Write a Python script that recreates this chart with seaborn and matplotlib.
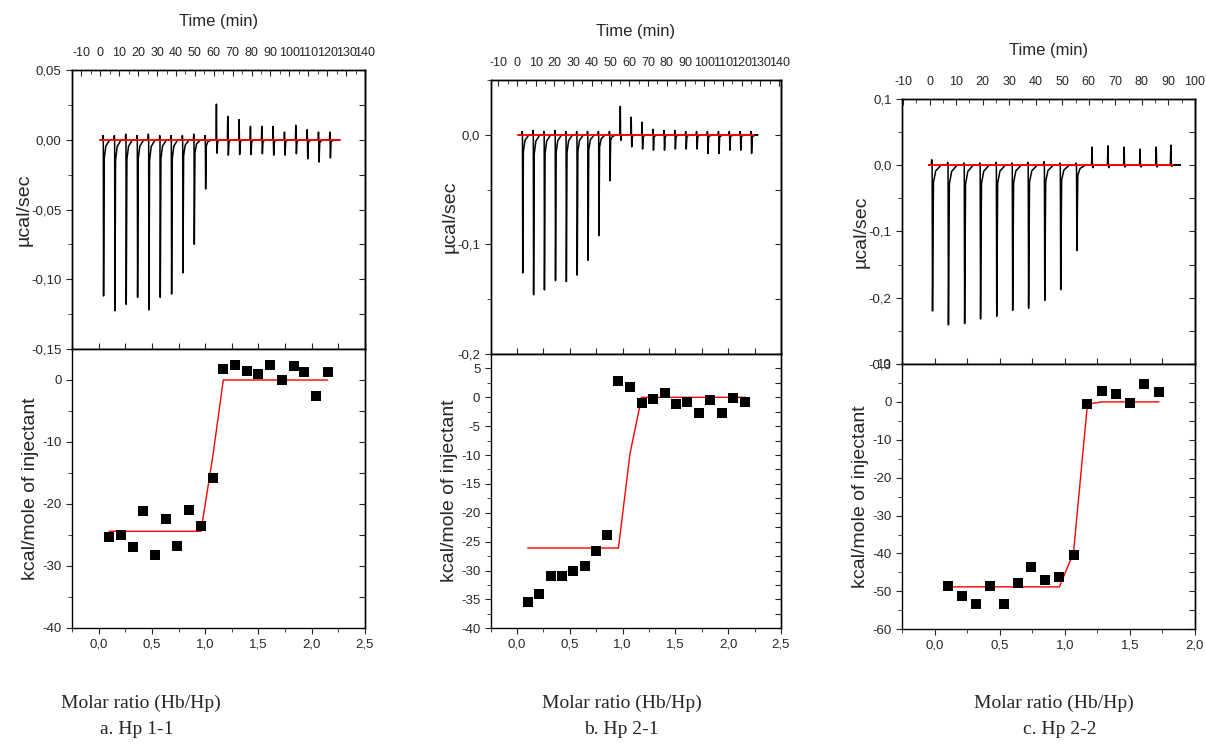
import numpy as np
import pandas as pd
import matplotlib
matplotlib.use("Agg")
import matplotlib.pyplot as plt
import seaborn as sns
from matplotlib.ticker import MultipleLocator, FuncFormatter

# ---------------- Hp 1-1 ----------------
a_inj_time = [1.5, 7.5, 13.5, 19.5, 25.5, 31.5, 37.5, 43.5, 49.5, 55.5, 61.5,
              67.5, 73.5, 79.5, 85.5, 91.5, 97.5, 103.5, 109.5, 115.5, 121.5]
a_inj_dip = [-0.112, -0.1226, -0.118, -0.113, -0.122, -0.113, -0.1106, -0.0954, -0.075, -0.0353, -0.0096,
             -0.011, -0.0106, -0.0106, -0.010, -0.011, -0.011, -0.010, -0.0137, -0.016, -0.013]
a_inj_spike = [0.003, 0.003, 0.004, 0.003, 0.004, 0.003, 0.003, 0.003, 0.004, 0.003, 0.0255,
               0.0168, 0.0144, 0.0096, 0.0096, 0.0096, 0.0055, 0.0103, 0.0072, 0.0055, 0.0055]
a_trace_span = [0.0, 126.7]
a_ratio = [0.10, 0.21, 0.32, 0.42, 0.53, 0.63, 0.74, 0.85, 0.96, 1.07,
           1.17, 1.28, 1.39, 1.50, 1.61, 1.72, 1.83, 1.93, 2.04, 2.15]
a_heat = [-25.4, -25.0, -26.9, -21.1, -28.2, -22.4, -26.8, -21.0, -23.5, -15.8,
          1.7, 2.4, 1.5, 0.9, 2.4, 0.0, 2.2, 1.3, -2.5, 1.3]
a_fit = [-24.4, -24.4, -24.4, -24.4, -24.4, -24.4, -24.4, -24.4, -24.4, -12.5,
         0.0, 0.0, 0.0, 0.0, 0.0, 0.0, 0.0, 0.0, 0.0, 0.0]

# ---------------- Hp 2-1 ----------------
b_inj_time = [2.9, 8.7, 14.5, 20.4, 26.2, 32.0, 37.8, 43.6, 49.5, 55.3, 61.1,
              66.9, 72.7, 78.6, 84.4, 90.2, 96.0, 101.8, 107.7, 113.5, 119.3, 125.1]
b_inj_dip = [-0.126, -0.146, -0.1415, -0.133, -0.134, -0.128, -0.1145, -0.092, -0.042, -0.005, -0.011,
             -0.013, -0.014, -0.014, -0.013, -0.013, -0.013, -0.017, -0.017, -0.014, -0.014, -0.017]
b_inj_spike = [0.003, 0.004, 0.003, 0.004, 0.003, 0.003, 0.003, 0.003, 0.003, 0.026, 0.016,
               0.0115, 0.005, 0.004, 0.004, 0.003, 0.003, 0.003, 0.003, 0.003, 0.003, 0.003]
b_trace_span = [0.75, 126.7]
b_ratio = [0.10, 0.21, 0.32, 0.43, 0.53, 0.64, 0.75, 0.85, 0.96, 1.07,
           1.18, 1.29, 1.40, 1.51, 1.61, 1.72, 1.83, 1.94, 2.05, 2.16]
b_heat = [-35.5, -34.0, -30.9, -30.9, -30.0, -29.2, -26.6, -23.8, 2.9, 1.7,
          -1.0, -0.3, 0.8, -1.2, -0.8, -2.7, -0.5, -2.7, -0.2, -0.8]
b_fit = [-26.1, -26.1, -26.1, -26.1, -26.1, -26.1, -26.1, -26.1, -26.1, -9.7,
         0.0, 0.0, 0.0, 0.0, 0.0, 0.0, 0.0, 0.0, 0.0, 0.0]

# ---------------- Hp 2-2 ----------------
c_inj_time = [0.9, 6.9, 13.0, 19.0, 25.1, 31.1, 37.1, 43.2, 49.2, 55.3, 61.3,
              67.3, 73.4, 79.4, 85.5, 91.0]
c_inj_dip = [-0.220, -0.241, -0.239, -0.232, -0.228, -0.219, -0.216, -0.204, -0.188, -0.129, -0.004,
             -0.004, -0.003, -0.003, -0.003, -0.002]
c_inj_spike = [0.008, 0.004, 0.003, 0.003, 0.004, 0.003, 0.004, 0.005, 0.003, 0.003, 0.027,
               0.029, 0.027, 0.024, 0.027, 0.030]
c_trace_span = [-0.4, 91.6]
c_ratio = [0.105, 0.213, 0.315, 0.426, 0.531, 0.638, 0.744, 0.851, 0.959, 1.067,
           1.174, 1.282, 1.39, 1.50, 1.608, 1.723]
c_heat = [-48.5, -51.2, -53.4, -48.5, -53.3, -47.7, -43.6, -47.1, -46.1, -40.3,
          -0.6, 3.0, 2.0, -0.2, 4.7, 2.6]
c_fit = [-48.8, -48.8, -48.8, -48.8, -48.8, -48.8, -48.8, -48.8, -48.8, -39.8,
         -0.6, 0.0, 0.0, 0.0, 0.0, 0.0]

sns.set_style("ticks")
plt.rcParams["font.family"] = ["Liberation Sans", "DejaVu Sans"]
plt.rcParams["axes.linewidth"] = 1.0
plt.rcParams["axes.unicode_minus"] = False

W, H = 1206, 745
fig = plt.figure(figsize=(12.06, 7.45), dpi=100)


def comma(dec):
    def f(v, pos):
        s = f"{v:.{dec}f}"
        if float(s) == 0:
            s = s.lstrip("-")
        return s.replace(".", ",")
    return FuncFormatter(f)


def build_trace(times, dips, spikes, span):
    # each injection: short spike, sharp dip, quick recovery with a tail
    t = [span[0]]
    v = [0.0]
    for t0, d, s in zip(times, dips, spikes):
        t += [t0 - 0.3, t0 - 0.1, t0 + 0.05, t0 + 0.2, t0 + 0.55, t0 + 1.4, t0 + 3.5]
        v += [0.0, s, 0.0, d, 0.12 * d, 0.04 * d, 0.0]
    t.append(span[1])
    v.append(0.0)
    return pd.DataFrame({"time": t, "power": v})


def panel(px_left, px_right, px_top, px_mid, px_bot, ratio_lim, time_lim,
          top_ylim, top_major, top_dec, bot_ylim, bot_major,
          trace, span, ratio, heat, fit, caption):
    left = px_left / W
    width = (px_right - px_left) / W
    ax_top = fig.add_axes([left, 1 - px_mid / H, width, (px_mid - px_top) / H])
    ax_bot = fig.add_axes([left, 1 - px_bot / H, width, (px_bot - px_mid) / H])

    # --- raw thermogram
    ax_t = ax_top.twiny()
    sns.lineplot(data=trace, x="time", y="power", ax=ax_t, color="black",
                 lw=1.1, sort=False, estimator=None)
    sns.lineplot(x=span, y=[0.0, 0.0], ax=ax_t, color="red", lw=1.3,
                 sort=False, estimator=None)
    ax_t.set_xlim(time_lim)
    ax_top.set_xlim(ratio_lim)
    ax_top.set_ylim(top_ylim)
    ax_t.set_ylim(top_ylim)
    ax_t.xaxis.set_major_locator(MultipleLocator(10))
    ax_t.xaxis.set_minor_locator(MultipleLocator(5))
    ax_t.tick_params(which="both", direction="in", labelsize=9, pad=8)
    ax_t.tick_params(which="major", length=4)
    ax_t.tick_params(which="minor", length=3)
    ax_t.set_xlabel("Time (min)", fontsize=12, labelpad=15)
    ax_t.set_ylabel("")

    ax_top.xaxis.set_major_locator(MultipleLocator(0.25))
    ax_top.tick_params(axis="x", direction="in", length=4, labelbottom=False)
    ax_top.yaxis.set_major_locator(MultipleLocator(top_major))
    ax_top.yaxis.set_minor_locator(MultipleLocator(top_major / 2))
    ax_top.yaxis.set_major_formatter(comma(top_dec))
    ax_top.tick_params(axis="y", which="both", direction="out", labelsize=9.5)
    ax_top.tick_params(axis="y", which="major", length=4)
    ax_top.tick_params(axis="y", which="minor", length=3)
    ax_top.set_ylabel("\u00b5cal/sec", fontsize=14, labelpad=-1)
    r = ax_top.secondary_yaxis("right")
    r.yaxis.set_major_locator(MultipleLocator(top_major / 2))
    r.tick_params(direction="in", length=4, labelright=False)

    # --- integrated heats
    sns.scatterplot(x=ratio, y=heat, ax=ax_bot, marker="s", s=45,
                    color="black", edgecolor="black", linewidth=0, zorder=3)
    sns.lineplot(x=ratio, y=fit, ax=ax_bot, color="red", lw=1.0,
                 sort=False, estimator=None, zorder=2)
    ax_bot.set_xlim(ratio_lim)
    ax_bot.set_ylim(bot_ylim)
    ax_bot.xaxis.set_major_locator(MultipleLocator(0.5))
    ax_bot.xaxis.set_minor_locator(MultipleLocator(0.25))
    ax_bot.xaxis.set_major_formatter(comma(1))
    ax_bot.yaxis.set_major_locator(MultipleLocator(bot_major))
    ax_bot.yaxis.set_minor_locator(MultipleLocator(bot_major / 2))
    ax_bot.yaxis.set_major_formatter(comma(0))
    ax_bot.tick_params(which="both", direction="out", labelsize=9.5)
    ax_bot.tick_params(which="major", length=4)
    ax_bot.tick_params(which="minor", length=3)
    ax_bot.set_ylabel("kcal/mole of injectant", fontsize=14, labelpad=2)
    r2 = ax_bot.secondary_yaxis("right")
    r2.yaxis.set_major_locator(MultipleLocator(bot_major / 2))
    r2.tick_params(direction="in", length=4, labelright=False)

    for a in (ax_top, ax_bot, ax_t):
        for sp in a.spines.values():
            sp.set_visible(True)
            sp.set_color("black")

    fig.text(caption[0] / W, 1 - 703 / H, "Molar ratio (Hb/Hp)", ha="center",
             va="center", fontsize=14, family="Liberation Serif")
    fig.text(caption[1] / W, 1 - 729 / H, caption[2], ha="center",
             va="center", fontsize=14, family="Liberation Serif")


panel(72, 365, 70, 349, 628, (-0.25, 2.5), (-15, 140),
      (-0.15, 0.05), 0.05, 2, (-40, 5), 10,
      build_trace(a_inj_time, a_inj_dip, a_inj_spike, a_trace_span), a_trace_span,
      a_ratio, a_heat, a_fit, (141, 137, "a. Hp 1-1"))

panel(490.7, 781, 80, 354, 628.3, (-0.25, 2.5), (-14, 141),
      (-0.2, 0.05), 0.1, 1, (-40, 7.5), 5,
      build_trace(b_inj_time, b_inj_dip, b_inj_spike, b_trace_span), b_trace_span,
      b_ratio, b_heat, b_fit, (622, 621, "b. Hp 2-1"))

panel(902, 1195, 98.7, 364, 629.3, (-0.25, 2.0), (-10.4, 100.0),
      (-0.3, 0.1), 0.1, 1, (-60, 10), 10,
      build_trace(c_inj_time, c_inj_dip, c_inj_spike, c_trace_span), c_trace_span,
      c_ratio, c_heat, c_fit, (1054, 1060, "c. Hp 2-2"))

fig.savefig("out.png", dpi=100)
